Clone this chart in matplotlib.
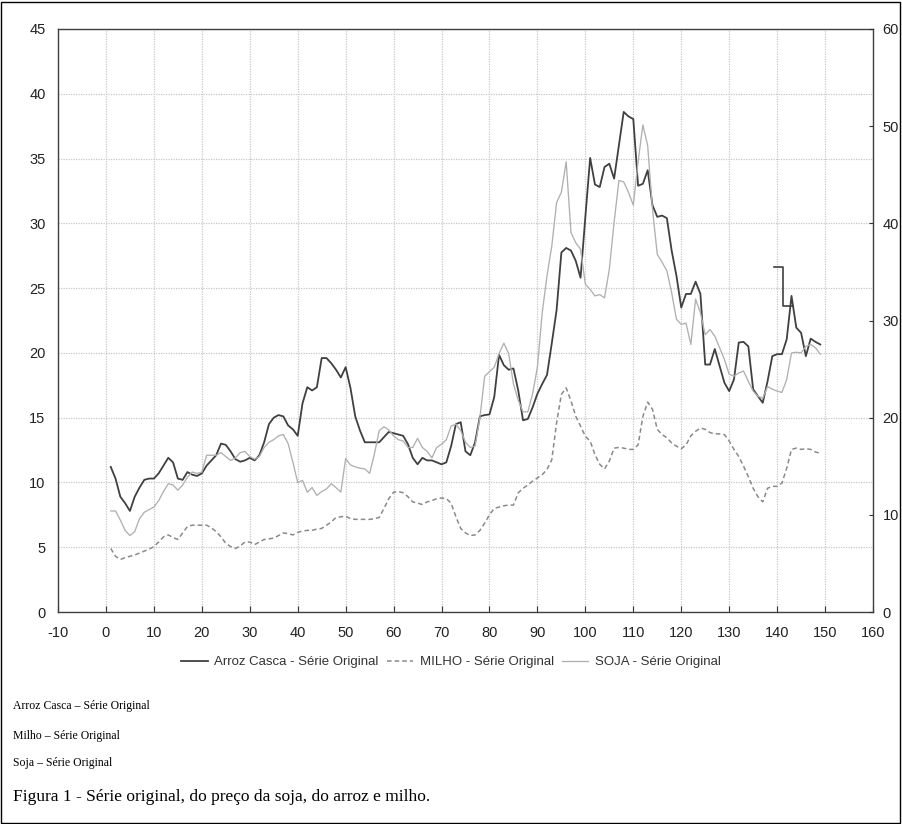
import matplotlib
matplotlib.use("Agg")
import matplotlib.pyplot as plt
from matplotlib.patches import Rectangle
import numpy as np

# ---- data (left-axis units) ----
periodo = list(range(1, 150))

arroz = [11.2, 10.3, 8.9, 8.4, 7.8, 8.9, 9.6, 10.2, 10.3, 10.3,
         10.7, 11.3, 11.9, 11.55, 10.3, 10.2, 10.8, 10.6, 10.5, 10.7,
         11.3, 11.7, 12.1, 13.0, 12.9, 12.4, 11.8, 11.6, 11.7, 11.9,
         11.7, 12.1, 13.1, 14.5, 15.0, 15.2, 15.1, 14.4, 14.1, 13.6,
         16.1, 17.35, 17.1, 17.35, 19.6, 19.6, 19.2, 18.7, 18.1, 18.9,
         17.3, 15.1, 14.0, 13.1, 13.1, 13.1, 13.1, 13.5, 13.9, 13.8,
         13.7, 13.6, 12.95, 11.9, 11.4, 11.9, 11.7, 11.7, 11.55, 11.4,
         11.55, 12.8, 14.5, 14.65, 12.4, 12.1, 13.1, 15.1, 15.2, 15.25,
         16.6, 19.85, 19.05, 18.7, 18.8, 17.1, 14.8, 14.9, 15.8, 16.85,
         17.6, 18.3, 20.75, 23.3, 27.75, 28.1, 27.9, 27.1, 25.8, 30.5,
         35.05, 33.0, 32.8, 34.35, 34.6, 33.45, 36.0, 38.6, 38.25, 38.05,
         32.9, 33.05, 34.1, 31.4, 30.5, 30.6, 30.4, 27.9, 25.95, 23.5,
         24.55, 24.55, 25.5, 24.55, 19.1, 19.1, 20.3, 19.0, 17.7, 17.05,
         17.95, 20.8, 20.85, 20.5, 17.2, 16.65, 16.15, 17.8, 19.75, 19.9,
         19.9, 21.05, 24.4, 21.95, 21.55, 19.75, 21.1, 20.85, 20.65]

milho = [4.9, 4.3, 4.05, 4.2, 4.3, 4.4, 4.55, 4.7, 4.85, 5.05,
         5.4, 5.8, 5.95, 5.75, 5.6, 6.1, 6.6, 6.7, 6.7, 6.7,
         6.7, 6.5, 6.2, 5.8, 5.3, 5.05, 4.9, 5.1, 5.4, 5.4,
         5.2, 5.4, 5.6, 5.65, 5.7, 5.9, 6.1, 6.05, 5.95, 6.15,
         6.25, 6.3, 6.3, 6.4, 6.45, 6.7, 6.95, 7.3, 7.35, 7.4,
         7.2, 7.15, 7.15, 7.15, 7.15, 7.2, 7.3, 8.0, 8.75, 9.25,
         9.3, 9.2, 8.9, 8.5, 8.4, 8.3, 8.5, 8.6, 8.75, 8.8,
         8.75, 8.4, 7.35, 6.45, 6.1, 5.9, 5.95, 6.3, 6.85, 7.5,
         8.0, 8.1, 8.2, 8.25, 8.25, 9.2, 9.55, 9.8, 10.1, 10.35,
         10.6, 11.0, 11.75, 14.6, 16.8, 17.3, 16.3, 15.1, 14.35, 13.55,
         13.2, 12.15, 11.4, 11.05, 11.65, 12.65, 12.7, 12.65, 12.55, 12.55,
         12.9, 15.1, 16.2, 15.65, 14.1, 13.7, 13.45, 13.05, 12.8, 12.6,
         12.9, 13.6, 13.95, 14.2, 14.1, 13.85, 13.75, 13.75, 13.7, 13.2,
         12.55, 12.0, 11.25, 10.45, 9.55, 8.9, 8.5, 9.55, 9.7, 9.7,
         9.95, 11.1, 12.55, 12.65, 12.55, 12.6, 12.55, 12.35, 12.25]

soja = [7.8, 7.8, 7.1, 6.3, 5.9, 6.2, 7.2, 7.7, 7.9, 8.1,
        8.6, 9.3, 9.9, 9.8, 9.4, 9.8, 10.4, 10.8, 10.7, 10.8,
        12.1, 12.1, 12.1, 12.3, 12.0, 11.7, 11.9, 12.3, 12.4, 12.0,
        11.8, 12.0, 12.7, 13.1, 13.3, 13.6, 13.7, 13.0, 11.55, 10.0,
        10.15, 9.25, 9.6, 9.0, 9.3, 9.5, 9.9, 9.6, 9.25, 11.85,
        11.35, 11.2, 11.1, 11.05, 10.7, 12.2, 14.0, 14.3, 14.05, 13.6,
        13.3, 13.2, 12.7, 12.7, 13.4, 12.7, 12.4, 11.9, 12.7, 12.95,
        13.3, 14.35, 14.5, 14.0, 13.1, 12.7, 12.8, 15.0, 18.2, 18.55,
        18.9, 19.95, 20.75, 19.95, 17.6, 16.35, 15.45, 15.45, 16.85, 18.9,
        23.1, 25.95, 28.25, 31.6, 32.4, 34.75, 29.3, 28.5, 28.0, 25.3,
        24.9, 24.4, 24.5, 24.25, 26.45, 30.1, 33.3, 33.2, 32.4, 31.4,
        34.75, 37.6, 36.0, 31.1, 27.6, 27.0, 26.35, 24.65, 22.6, 22.2,
        22.3, 20.65, 24.15, 23.1, 21.4, 21.8, 21.3, 20.4, 19.5, 18.35,
        18.2, 18.45, 18.6, 17.8, 17.05, 16.65, 16.5, 17.4, 17.2, 17.05,
        16.95, 17.95, 20.0, 20.05, 20.0, 20.5, 20.65, 20.4, 19.9]

# small stepped mark drawn over the chart in the original
marca_x = [139.3, 141.2, 141.2, 143.3]
marca_y = [26.6, 26.6, 23.6, 23.6]

x_ticks = list(range(-10, 161, 10))
y_ticks_left = list(range(0, 46, 5))
y_ticks_right = list(range(0, 61, 10))

legend_labels = ["Arroz Casca - Série Original", "MILHO - Série Original",
                 "SOJA - Série Original"]
notes = ["Arroz Casca \u2013 Série Original", "Milho \u2013 Série Original",
         "Soja \u2013 Série Original"]
caption = "Figura 1 - Série original, do preço da soja, do arroz e milho."

# ---- figure ----
plt.rcParams['font.family'] = ['Liberation Sans', 'DejaVu Sans']
plt.rcParams['axes.unicode_minus'] = False
fig = plt.figure(figsize=(9.02, 8.24), dpi=100)
ax = fig.add_axes([58/902, 1-612/824, (873-58)/902, (612-29)/824])

grid_kw = dict(color='#c8c8c8', linestyle=(0, (1, 1)), linewidth=0.9)
ax.set_axisbelow(True)
ax.grid(True, **grid_kw)

l1, = ax.plot(periodo, arroz, color='#404040', lw=1.3, label=legend_labels[0])
l2, = ax.plot(periodo, milho, color='#8a8a8a', lw=1.1, linestyle=(0, (3, 2)),
              label=legend_labels[1])
l3, = ax.plot(periodo, soja, color='#b0b0b0', lw=0.95, label=legend_labels[2])
ax.plot(marca_x, marca_y, color='#404040', lw=1.2)

ax.set_xlim(-10, 160)
ax.set_ylim(0, 45)
ax.set_xticks(x_ticks)
ax.set_yticks(y_ticks_left)
ax.tick_params(axis='x', direction='in', length=4, labelsize=10.5,
               colors='#333333', labelcolor='#222222', pad=10)
ax.tick_params(axis='y', direction='in', length=0, labelsize=10.5,
               labelcolor='#222222', pad=9)
for s in ax.spines.values():
    s.set_color('#404040')
    s.set_linewidth(1.0)

ax2 = ax.twinx()
ax2.set_ylim(0, 60)
ax2.set_yticks(y_ticks_right)
ax2.tick_params(axis='y', direction='in', length=3, labelsize=10.5,
                colors='#333333', labelcolor='#222222', pad=7)
for s in ax2.spines.values():
    s.set_visible(False)

leg = fig.legend(handles=[l1, l2, l3], labels=legend_labels, loc='center',
                 bbox_to_anchor=(0.5, 1-662/824), ncol=3, frameon=False,
                 fontsize=9.5, handlelength=2.0, columnspacing=0.6,
                 handletextpad=0.5)
for t in leg.get_texts():
    t.set_color('#333333')

serif = ['Liberation Serif', 'DejaVu Serif']
for txt, ypx in zip(notes, [706, 736, 763]):
    fig.text(13/902, 1-ypx/824, txt, family=serif, fontsize=8.5,
             va='center', ha='left', color='black')
fig.text(13/902, 1-797/824, caption, family=serif, fontsize=12.5,
         va='center', ha='left', color='black')

fig.patches.append(Rectangle((1/902, 1/824), 899/902, 821/824,
                             transform=fig.transFigure, fill=False,
                             edgecolor='black', linewidth=1.0))

fig.savefig('out.png', dpi=100)
